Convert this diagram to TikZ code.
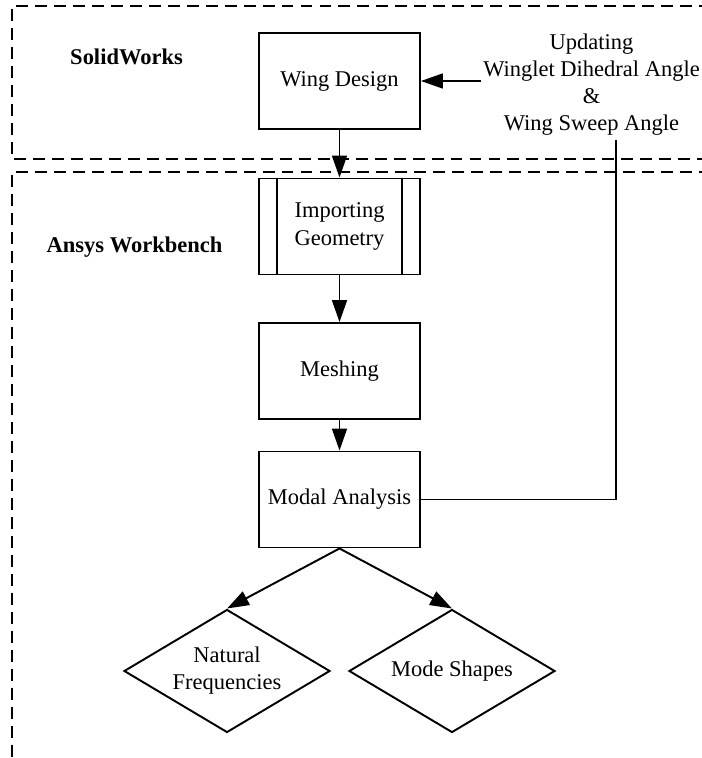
\documentclass[tikz,border=0pt]{standalone}
\usepackage{fontspec}
\setmainfont{Liberation Serif}
\usetikzlibrary{shapes.geometric,arrows.meta,calc,positioning}

\tikzset{
  block/.style={draw, line width=1.1pt, minimum width=3.22cm, minimum height=1.92cm, align=center, inner sep=0pt},
  decision/.style={draw, diamond, line width=1.1pt, shape aspect=1.67, minimum width=4.12cm, minimum height=2.46cm, align=center, inner sep=1pt},
  flow/.style={line width=1.1pt, -{Triangle[length=12.5pt,width=8.5pt]}},
  frame/.style={line width=0.9pt, dash pattern=on 6.8pt off 4pt},
  tag/.style={font=\fontsize{12.8}{15.4}\selectfont\bfseries}
}

\begin{document}
\begin{tikzpicture}[font=\fontsize{12.8}{15.4}\selectfont]
        \def\W{14.04}
        \def\H{15.16}
        \def\xm{6.79}
        \def\g{0.38}
        \useasboundingbox (0,0) rectangle (\W,-\H);
        \clip (0,0) rectangle (\W,-\H);
        %Draw frames
        \draw[frame] (14.6,-0.12) -- (0.24,-0.12) -- (0.24,-3.18) -- (14.6,-3.18);
        \draw[frame] (14.6,-3.44) -- (0.24,-3.44) -- (0.24,-15.6);
        \node[tag] (solid) at (2.53,-1.14) {SolidWorks};
        \node[tag] (ansys) at (2.69,-4.94) {Ansys Workbench};
        %Draw blocks
        \node[block] (design) at (\xm,-1.62) {Wing Design};
        \node[block] (import) at (\xm,-4.53) {Importing\\Geometry};
        \node[block] (mesh) at (\xm,-7.42) {Meshing};
        \node[block] (modal) at (\xm,-9.99) {Modal Analysis};
        \node[decision] (natural) at (4.54,-13.42) {Natural\\Frequencies};
        \node[decision] (shapes) at (9.04,-13.42) {Mode Shapes};
        \node[align=center, inner sep=1pt] (update) at (11.83,-1.70) {Updating\\Winglet Dihedral Angle\\\&\\Wing Sweep Angle};
        \draw[line width=1.1pt] ($(import.north west)+(\g,0)$) -- ($(import.south west)+(\g,0)$);
        \draw[line width=1.1pt] ($(import.north east)+(-\g,0)$) -- ($(import.south east)+(-\g,0)$);
        \coordinate (fb) at (12.32,-2.80);
        %Draw arrows
        \draw[flow] (design) -- (import);
        \draw[flow] (import) -- (mesh);
        \draw[flow] (mesh) -- (modal);
        \draw[flow] (modal.south) -- (natural.north);
        \draw[flow] (modal.south) -- (shapes.north);
        \draw[line width=1.1pt] (modal.east) -| (fb);
        \draw[flow] (update.west |- design.east) -- (design.east);
      \end{tikzpicture}
\end{document}
